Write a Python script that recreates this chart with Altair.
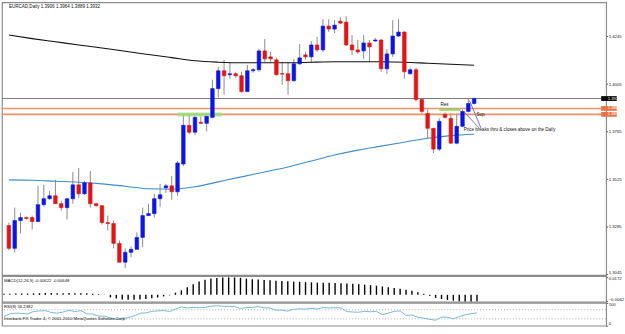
import altair as alt
import pandas as pd

# ---------------- data ----------------
opens = [1.3292,1.3177,1.3317,1.3332,1.3332,1.3312,1.3397,1.3427,1.3442,1.3402,
1.3382,1.3427,1.3497,1.3452,1.3507,1.3402,1.3392,1.3307,1.3302,1.3202,
1.3107,1.3157,1.3172,1.3232,1.3342,1.3352,1.3427,1.3482,1.3492,1.3462,
1.3602,1.3797,1.3762,1.3812,1.3807,1.3837,1.3982,1.4072,1.4052,1.4057,
1.4047,1.3967,1.4072,1.4077,1.4172,1.4142,1.4127,1.4058,1.4057,1.4022,
1.4107,1.4152,1.4142,1.4202,1.4177,1.4297,1.4282,1.4322,1.4317,1.4202,
1.4177,1.4172,1.4212,1.4222,1.4227,1.4082,1.4157,1.4247,1.4267,1.4057,
1.4077,1.3927,1.3857,1.3782,1.3677,1.3852,1.3832,1.3707,1.3792,1.3867,
1.3907]
highs = [1.3307,1.3382,1.3357,1.3337,1.3342,1.3492,1.3497,1.3467,1.3522,1.3417,
1.3432,1.3562,1.3582,1.3517,1.3567,1.3407,1.3392,1.3342,1.3317,1.3217,
1.3177,1.3187,1.3257,1.3382,1.3402,1.3452,1.3502,1.3502,1.3542,1.3617,
1.3857,1.3857,1.3857,1.3842,1.3857,1.4027,1.4092,1.4127,1.4117,1.4067,
1.4067,1.4102,1.4087,1.4182,1.4232,1.4167,1.4137,1.4117,1.4117,1.4132,
1.4207,1.4167,1.4222,1.4242,1.4332,1.4332,1.4327,1.4342,1.4347,1.4252,
1.4227,1.4252,1.4227,1.4237,1.4232,1.4182,1.4327,1.4332,1.4272,1.4087,
1.4087,1.3932,1.3877,1.3782,1.3832,1.3862,1.3857,1.3857,1.3877,1.3932,
1.3937]
lows = [1.3167,1.3157,1.3252,1.3322,1.3272,1.3312,1.3387,1.3422,1.3402,1.3367,
1.3322,1.3402,1.3432,1.3447,1.3382,1.3387,1.3297,1.3267,1.3177,1.3107,
1.3077,1.3132,1.3172,1.3182,1.3342,1.3332,1.3387,1.3457,1.3422,1.3442,
1.3592,1.3752,1.3747,1.3802,1.3767,1.3832,1.3937,1.3952,1.4032,1.4037,
1.3962,1.3967,1.4062,1.4067,1.4117,1.4117,1.4047,1.4002,1.3952,1.4017,
1.4102,1.4127,1.4112,1.4167,1.4167,1.4267,1.4262,1.4307,1.4197,1.4152,
1.4157,1.4132,1.4117,1.4217,1.4067,1.4057,1.4142,1.4242,1.4032,1.4052,
1.3917,1.3857,1.3732,1.3657,1.3667,1.3832,1.3702,1.3702,1.3787,1.3862,
1.3902]
closes = [1.3177,1.3317,1.3332,1.3327,1.3312,1.3397,1.3427,1.3442,1.3402,1.3382,
1.3427,1.3497,1.3452,1.3507,1.3402,1.3392,1.3307,1.3302,1.3202,1.3107,
1.3157,1.3172,1.3232,1.3342,1.3352,1.3427,1.3447,1.3492,1.3462,1.3607,
1.3797,1.3762,1.3837,1.3807,1.3842,1.3982,1.4072,1.4047,1.4057,1.4047,
1.3967,1.4072,1.4077,1.4172,1.4132,1.4132,1.4052,1.4055,1.4022,1.4107,
1.4137,1.4142,1.4202,1.4177,1.4297,1.4282,1.4302,1.4312,1.4202,1.4177,
1.4167,1.4212,1.4192,1.4227,1.4082,1.4157,1.4247,1.4267,1.4067,1.4077,
1.3927,1.3867,1.3782,1.3677,1.3817,1.3837,1.3707,1.3792,1.3867,1.3907,
1.3932]

ma_bars = [0, 4, 8, 12, 16, 20, 24, 28, 32, 36, 40, 44, 48, 52, 56, 60, 64, 68, 72, 76, 80]
ma_slow = [1.4252, 1.4234, 1.4218, 1.4202, 1.4187, 1.4170, 1.4154, 1.4138, 1.4122, 1.4115, 1.4112,
           1.4112, 1.4112, 1.4115, 1.4117, 1.4117, 1.4117, 1.4115, 1.4110, 1.4105, 1.4100]
ma_fast = [1.3522, 1.3520, 1.3515, 1.3510, 1.3502, 1.3490, 1.3477, 1.3475, 1.3487, 1.3512, 1.3537,
           1.3562, 1.3587, 1.3617, 1.3647, 1.3672, 1.3692, 1.3712, 1.3732, 1.3745, 1.3752]

macd_hist = [0.0010,0.0010,0.0012,0.0012,0.0012,0.0014,0.0016,0.0018,0.0018,0.0016,
0.0016,0.0018,0.0016,0.0016,0.0014,0.0010,0.0006,0.0002,-0.0025,-0.0035,
-0.0045,-0.0048,-0.0048,-0.0045,-0.0040,-0.0032,-0.0025,-0.0015,-0.0005,0.0020,
0.0044,0.0073,0.0102,0.0127,0.0145,0.0156,0.0163,0.0167,0.0167,0.0167,
0.0163,0.0156,0.0150,0.0147,0.0143,0.0140,0.0136,0.0133,0.0130,0.0127,
0.0125,0.0122,0.0120,0.0117,0.0116,0.0115,0.0113,0.0112,0.0110,0.0106,
0.0102,0.0098,0.0093,0.0088,0.0080,0.0073,0.0066,0.0058,0.0050,0.0040,
0.0025,0.0010,-0.0010,-0.0030,-0.0040,-0.0050,-0.0057,-0.0062,-0.0065,-0.0065,
-0.0062]

rsi_vals = [40,52,55,54,52,62,65,66,58,55,
60,68,62,66,52,51,42,42,34,27,
33,35,43,55,56,63,65,67,62,73,
82,78,80,79,80,85,88,85,85,84,
75,80,80,84,78,78,68,68,64,72,
74,73,76,73,80,78,79,78,62,60,
59,63,61,63,48,55,63,65,45,47,
37,33,28,24,38,37,30,40,48,53,
56]

date_labels = ["18 Aug 2010","23 Aug 2010","27 Aug 2010","1 Sep 2010","6 Sep 2010","10 Sep 2010",
               "15 Sep 2010","20 Sep 2010","24 Sep 2010","29 Sep 2010","4 Oct 2010","8 Oct 2010",
               "13 Oct 2010","18 Oct 2010","22 Oct 2010","27 Oct 2010","1 Nov 2010","5 Nov 2010",
               "10 Nov 2010","15 Nov 2010","19 Nov 2010"]
price_ticks = [round(1.4365 - 0.006 * j, 4) for j in range(23)]
macd_ticks = [0.0172, 0.0, -0.0062]
rsi_ticks = [100, 70, 30, 0]

last_price = 1.3932
level_lines = [1.3882, 1.3852]
green_zone = [29.0, 36.6, 1.3862, 1.3842]
res_line = [74.0, 77.7, 1.3875]

title_text = "EURCAD,Daily  1.3906 1.3964 1.3889 1.3932"
macd_text = "MACD(12,26,9) -0.00622 -0.00648"
rsi_text = "RSI(8) 56.2382"
copy_text = "Interbank FX Trader 4, \u00a9 2001-2010 MetaQuotes Software Corp."

# ---------------- styling ----------------
FONT = "Liberation Sans"
FS = 4.3
BLUE = "#0b16e6"
RED = "#e01515"
W = 609
XPX = 5.96  # pixels per bar
KMAX = (W - 2) / XPX  # bar index at the right edge of the plot

n = len(opens)
candles = pd.DataFrame({"k": list(range(n)), "o": opens, "h": highs, "l": lows, "c": closes})
candles["dir"] = ["up" if c >= o else "down" for o, c in zip(opens, closes)]

xscale = alt.Scale(domain=[-2 / XPX, KMAX], nice=False, zero=False)
yscale = alt.Scale(domain=[1.3042, 1.4417], nice=False, zero=False)
cscale = alt.Scale(domain=["up", "down"], range=[BLUE, RED])


def raxis(values, **kw):
    return alt.Axis(orient="right", values=values, labelFontSize=FS, labelFont=FONT,
                    tickSize=1.5, labelPadding=0.5, grid=False, domain=False, tickColor="#555",
                    labelColor="#222", labelBound=False, labelOverlap=False, labelFlush=2, **kw)


X = alt.X("k:Q", scale=xscale, axis=None)

wick = alt.Chart(candles).mark_rule(color="#8a8a8a", strokeWidth=1).encode(
    x=X, y=alt.Y("l:Q", scale=yscale, axis=raxis(price_ticks, format=".4f"), title=None), y2="h:Q")
body = alt.Chart(candles).mark_bar(size=3.6, strokeWidth=0.6).encode(
    x=X, y=alt.Y("o:Q", scale=yscale), y2="c:Q",
    color=alt.Color("dir:N", scale=cscale, legend=None),
    stroke=alt.Stroke("dir:N", scale=cscale, legend=None))

ma_df = pd.DataFrame({"k": ma_bars, "slow": ma_slow, "fast": ma_fast})
slow_line = alt.Chart(ma_df).mark_line(color="#111111", strokeWidth=1.1, interpolate="monotone").encode(
    x=X, y=alt.Y("slow:Q", scale=yscale))
fast_line = alt.Chart(ma_df).mark_line(color="#3d8ccc", strokeWidth=1.1, interpolate="monotone").encode(
    x=X, y=alt.Y("fast:Q", scale=yscale))

price_line = alt.Chart(pd.DataFrame({"p": [last_price]})).mark_rule(color="#7a7a7a", strokeWidth=1).encode(
    y=alt.Y("p:Q", scale=yscale))
lvl = alt.Chart(pd.DataFrame({"p": level_lines})).mark_rule(color="#e8875a", strokeWidth=1.6, opacity=0.9).encode(
    y=alt.Y("p:Q", scale=yscale))

gz = alt.Chart(pd.DataFrame({"x1": [green_zone[0]], "x2": [green_zone[1]], "y1": [green_zone[2]], "y2": [green_zone[3]]})
               ).mark_rect(color="#93e07f", opacity=0.75).encode(
    x=alt.X("x1:Q", scale=xscale, axis=None), x2="x2:Q", y=alt.Y("y1:Q", scale=yscale), y2="y2:Q")
rl = alt.Chart(pd.DataFrame({"x1": [res_line[0]], "x2": [res_line[1]], "p": [res_line[2]]})
               ).mark_rule(color="#8fdc6e", strokeWidth=2).encode(
    x=alt.X("x1:Q", scale=xscale, axis=None), x2="x2:Q", y=alt.Y("p:Q", scale=yscale))

ann = pd.DataFrame({"x1": [81.2, 80.9], "y1": [1.3782, 1.3782], "x2": [79.2, 78.2], "y2": [1.3922, 1.3867]})
ann_lines = alt.Chart(ann).mark_rule(color="#4a56c8", strokeWidth=0.8).encode(
    x=alt.X("x1:Q", scale=xscale, axis=None), y=alt.Y("y1:Q", scale=yscale), x2="x2:Q", y2="y2:Q")

notes = pd.DataFrame({"k": [74.2, 80.4, 78.2, 0.0],
                      "p": [1.3897, 1.3850, 1.3775, 1.4392],
                      "t": ["Res", "Sup", "Price breaks thru & closes above on the Daily", title_text]})
note_text = alt.Chart(notes).mark_text(align="left", baseline="middle", font=FONT, fontSize=FS + 0.3,
                                       color="#111").encode(
    x=alt.X("k:Q", scale=xscale, axis=None), y=alt.Y("p:Q", scale=yscale), text="t:N")

box_vals = [last_price] + level_lines
boxes = pd.DataFrame({"x1": [KMAX] * 3, "x2": [KMAX + 16 / XPX] * 3,
                      "p": box_vals, "t": [f"{v:.4f}" for v in box_vals],
                      "fill": ["#000000", "#e8744a", "#e8744a"]})
boxes["p1"] = boxes["p"] + 0.0012
boxes["p2"] = boxes["p"] - 0.0012
box_rect = alt.Chart(boxes).mark_rect().encode(
    x=alt.X("x1:Q", scale=xscale, axis=None), x2="x2:Q", y=alt.Y("p1:Q", scale=yscale), y2="p2:Q",
    color=alt.Color("fill:N", scale=None))
box_text = alt.Chart(boxes).mark_text(align="left", baseline="middle", font=FONT, fontSize=FS,
                                      color="#ffffff").encode(
    x=alt.value(W + 1.5), y=alt.Y("p:Q", scale=yscale), text="t:N")

main = alt.layer(wick, slow_line, fast_line, price_line, lvl, gz, rl, body, ann_lines, note_text,
                 box_rect, box_text).properties(width=W, height=275)

# ---------------- MACD panel ----------------
mscale = alt.Scale(domain=[-0.0068, 0.0180], nice=False, zero=False)
macd_df = pd.DataFrame({"k": list(range(n)), "m": macd_hist})
macd_bars = alt.Chart(macd_df).mark_rule(color="#000000", strokeWidth=1.4).encode(
    x=X,
    y=alt.Y("m:Q", scale=mscale, title=None,
            axis=raxis(macd_ticks,
                       labelExpr="datum.value == 0 ? '0.00' : format(datum.value, '.4f')")),
    y2=alt.datum(0))
macd_lab = alt.Chart(pd.DataFrame({"k": [0.0], "m": [0.0135], "t": [macd_text]})).mark_text(
    align="left", baseline="middle", font=FONT, fontSize=FS, color="#111").encode(
    x=alt.X("k:Q", scale=xscale, axis=None), y=alt.Y("m:Q", scale=mscale), text="t:N")
macd = alt.layer(macd_bars, macd_lab).properties(width=W, height=26)

# ---------------- RSI panel ----------------
rscale = alt.Scale(domain=[0, 100], nice=False)
rsi_df = pd.DataFrame({"k": list(range(n)), "r": rsi_vals})
xaxis = alt.Axis(values=list(range(0, 81, 4)), labelFontSize=4.0, labelFont=FONT, labelAlign="left",
                 tickSize=1.5, labelPadding=0.5, grid=False, domain=False, labelColor="#222",
                 labelExpr="[" + ",".join("'" + d + "'" for d in date_labels) + "][round(datum.value / 4)]",
                 labelBound=False, labelOverlap=False)
rsi_line = alt.Chart(rsi_df).mark_line(color="#7ab6dc", strokeWidth=1).encode(
    x=alt.X("k:Q", scale=xscale, axis=xaxis, title=None),
    y=alt.Y("r:Q", scale=rscale, title=None, axis=raxis(rsi_ticks)))
rsi_lvls = alt.Chart(pd.DataFrame({"r": [70, 30]})).mark_rule(color="#9a9a9a", strokeWidth=0.8,
                                                           strokeDash=[1, 2]).encode(y=alt.Y("r:Q", scale=rscale))
rsi_lab = alt.Chart(pd.DataFrame({"k": [0.0, 0.0], "r": [84, 28], "t": [rsi_text, copy_text]})).mark_text(
    align="left", baseline="middle", font=FONT, fontSize=FS, color="#111").encode(
    x=alt.X("k:Q", scale=xscale, axis=None), y=alt.Y("r:Q", scale=rscale), text="t:N")
rsi = alt.layer(rsi_lvls, rsi_line, rsi_lab).properties(width=W, height=23)

chart = alt.vconcat(main, macd, rsi, spacing=1, bounds="flush").properties(
    padding={"left": 0, "top": 0, "right": 0, "bottom": 0}, background="white"
).configure_view(stroke="#8c8c8c", strokeWidth=1.2)

chart.save("out.html", embed_options={"renderer": "svg", "actions": False})
